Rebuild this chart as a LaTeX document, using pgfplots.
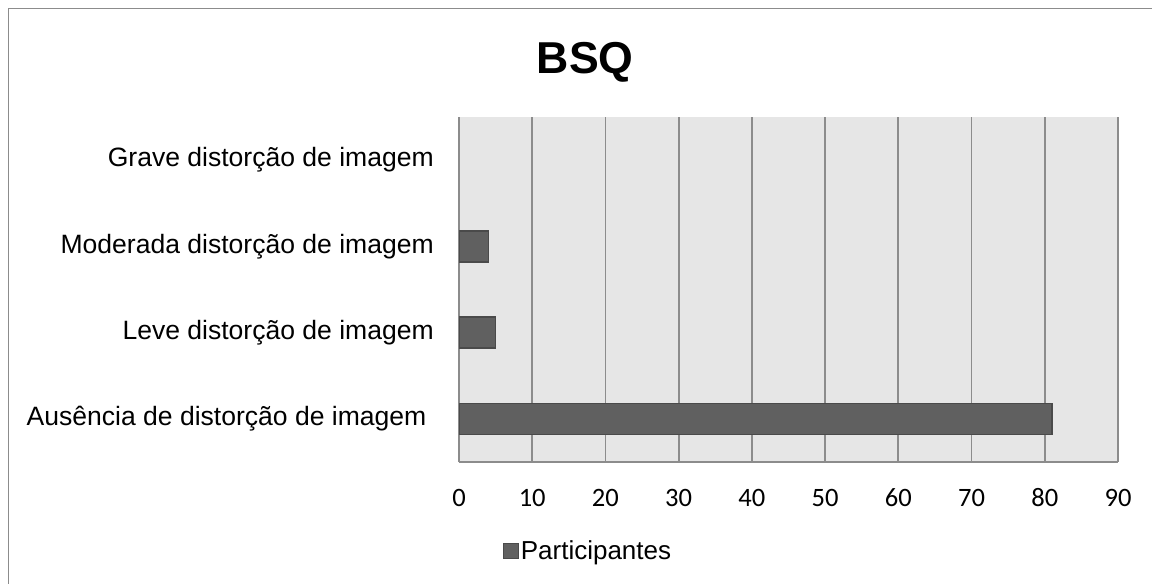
\documentclass[border=0pt]{standalone}
\usepackage{pgfplots}
\pgfplotsset{compat=1.18}
\usepackage{fontspec}
\setmainfont{Liberation Sans}
\newfontfamily\carlito{Carlito}
\definecolor{bg}{HTML}{E6E6E6}
\definecolor{gridc}{HTML}{8C8C8C}
\definecolor{barc}{HTML}{606060}
\definecolor{bard}{HTML}{4A4A4A}
\definecolor{framec}{HTML}{8C8C8C}
\begin{document}
\begin{tikzpicture}
\useasboundingbox (0,0) rectangle (864pt,-437.25pt);
\draw[framec, line width=0.75pt] (6pt,-6pt) rectangle (872pt,-445pt);
\node[anchor=base, inner sep=0pt, font=\fontsize{33.5}{40}\selectfont\bfseries] at (439pt,-54.75pt) {BSQ};
\begin{axis}[
  at={(344.25pt,-346.5pt)}, anchor=south west,
  scale only axis, width=494.25pt, height=258.75pt,
  xbar, bar width=23.25pt,
  xmin=0, xmax=90, ymin=-0.5, ymax=3.5,
  xtick={0,10,...,90},
  ytick={0,1,2,3},
  yticklabels={Ausência de distorção de imagem\kern5.5pt, Leve distorção de imagem, Moderada distorção de imagem, Grave distorção de imagem},
  axis background/.style={fill=bg},
  axis x line*=bottom, axis y line*=left,
  axis line style={-, draw=gridc, line width=1.3pt},
  xmajorgrids, major grid style={draw=gridc, line width=1.3pt},
  major tick length=0pt,
  /pgf/number format/assume math mode=true,
  xticklabel style={font=\carlito\fontsize{19.9}{24}\selectfont, inner sep=0pt, anchor=north, text height=12.6pt, text depth=0pt, yshift=-20.25pt},
  yticklabel style={font=\fontsize{19.9}{24}\selectfont, inner sep=0pt, anchor=east, xshift=-18.75pt},
  legend style={at={(0.196,-0.258)}, anchor=center, draw=none, fill=none, font=\fontsize{19.5}{23}\selectfont, inner sep=0pt},
  legend image code/.code={\draw[fill=barc, draw=bard, line width=0.5pt] (0pt,-5.6pt) rectangle (11.25pt,5.6pt);},
  legend cell align=left,
]
% Grave distorcao de imagem = 0 (no bar drawn)
\addplot[fill=barc, draw=bard, line width=1pt] coordinates {(81,0) (5,1) (4,2)};
\addlegendentry{Participantes}
\end{axis}
\end{tikzpicture}
\end{document}
